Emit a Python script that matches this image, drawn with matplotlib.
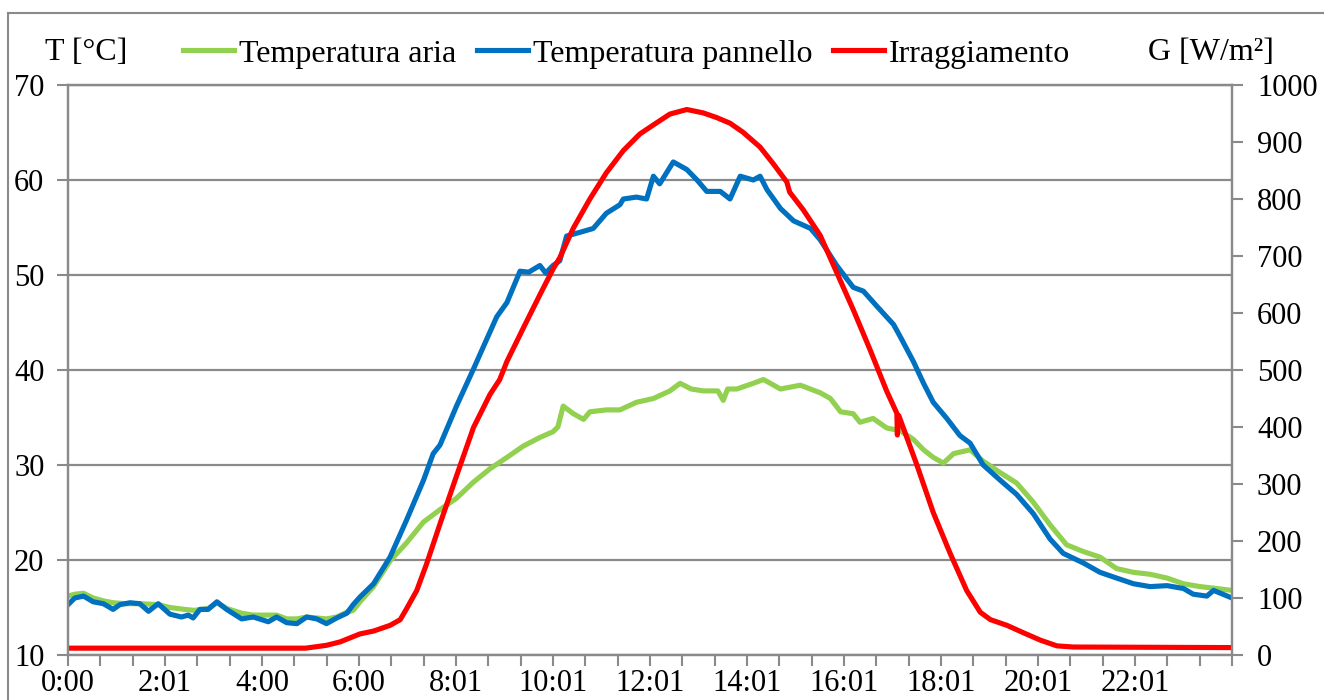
import matplotlib

matplotlib.use("Agg")
import matplotlib.pyplot as plt
from matplotlib.lines import Line2D
from matplotlib.ticker import FixedLocator
import numpy as np

# Air temperature [°C] over the day (hours)
air_hours = [
    0.0, 0.14, 0.32, 0.52, 0.73, 0.93, 1.2, 1.5, 1.86, 2.1, 2.4, 2.6, 2.89, 3.07,
    3.27, 3.58, 3.82, 4.13, 4.3, 4.51, 4.72, 4.92, 5.13, 5.33, 5.54, 5.75, 5.88,
    6.02, 6.30, 6.64, 6.98, 7.33, 7.67, 8.01, 8.36, 8.7, 9.05, 9.39, 9.73, 10.0,
    10.1, 10.21, 10.42, 10.63, 10.76, 11.1, 11.38, 11.72, 12.07, 12.41, 12.62,
    12.85, 13.1, 13.4, 13.51, 13.6, 13.79, 14.13, 14.34, 14.69, 15.1, 15.51,
    15.72, 15.93, 16.19, 16.33, 16.6, 16.88, 17.16, 17.43, 17.64, 17.84, 18.05,
    18.26, 18.6, 18.87, 19.22, 19.56, 19.9, 20.25, 20.59, 20.93, 21.28, 21.62,
    21.97, 22.31, 22.66, 23.0, 23.34, 23.68, 24.0,
]
air_temp = [
    16.2, 16.4, 16.5, 16.0, 15.7, 15.5, 15.4, 15.4, 15.3, 15.0, 14.8, 14.7, 14.9,
    15.5, 14.9, 14.4, 14.2, 14.2, 14.2, 13.8, 13.8, 14.0, 13.9, 13.8, 14.0, 14.5,
    14.7, 15.6, 17.2, 19.9, 21.8, 24.0, 25.3, 26.5, 28.2, 29.6, 30.8, 32.0, 32.9,
    33.5, 34.0, 36.2, 35.4, 34.8, 35.6, 35.8, 35.8, 36.6, 37.0, 37.8, 38.6, 38.0,
    37.8, 37.8, 36.8, 38.0, 38.0, 38.6, 39.0, 38.0, 38.4, 37.6, 37.0, 35.6, 35.4,
    34.5, 34.9, 33.9, 33.6, 32.7, 31.6, 30.8, 30.2, 31.2, 31.6, 30.4, 29.2, 28.1,
    26.1, 23.7, 21.6, 20.9, 20.3, 19.1, 18.7, 18.5, 18.1, 17.5, 17.2, 17.0, 16.8,
]

# Panel temperature [°C]
panel_hours = [
    0.0, 0.14, 0.32, 0.52, 0.73, 0.93, 1.07, 1.28, 1.48, 1.66, 1.86, 2.1, 2.34,
    2.48, 2.58, 2.72, 2.89, 3.07, 3.27, 3.58, 3.82, 4.13, 4.3, 4.51, 4.72, 4.92,
    5.13, 5.33, 5.54, 5.75, 5.88, 6.02, 6.30, 6.64, 6.98, 7.33, 7.53, 7.67, 8.01,
    8.36, 8.56, 8.84, 9.05, 9.32, 9.5, 9.73, 9.85, 10.0, 10.14, 10.28, 10.56,
    10.83, 11.1, 11.38, 11.45, 11.72, 11.93, 12.07, 12.2, 12.48, 12.76, 12.97,
    13.17, 13.45, 13.65, 13.86, 14.13, 14.27, 14.41, 14.69, 14.96, 15.31, 15.51,
    15.85, 16.19, 16.4, 16.68, 17.02, 17.15, 17.43, 17.64, 17.84, 18.12, 18.39,
    18.6, 18.87, 19.22, 19.56, 19.9, 20.25, 20.52, 20.93, 21.28, 21.62, 21.97,
    22.31, 22.66, 23.0, 23.2, 23.48, 23.62, 24.0,
]
panel_temp = [
    15.3, 16.0, 16.2, 15.6, 15.4, 14.8, 15.3, 15.5, 15.4, 14.6, 15.4, 14.3, 14.0,
    14.2, 13.9, 14.8, 14.8, 15.6, 14.8, 13.8, 14.0, 13.5, 14.0, 13.4, 13.3, 14.0,
    13.8, 13.3, 13.9, 14.4, 15.3, 16.1, 17.5, 20.3, 24.2, 28.4, 31.2, 32.1, 36.2,
    40.1, 42.4, 45.6, 47.1, 50.4, 50.3, 51.0, 50.2, 51.0, 51.5, 54.1, 54.5, 54.9,
    56.5, 57.4, 58.0, 58.2, 58.0, 60.4, 59.6, 61.9, 61.1, 60.0, 58.8, 58.8, 58.0,
    60.4, 60.0, 60.4, 59.0, 57.0, 55.7, 54.9, 53.7, 51.0, 48.7, 48.3, 46.7, 44.8,
    43.6, 40.9, 38.6, 36.6, 34.9, 33.1, 32.3, 30.0, 28.4, 26.9, 24.9, 22.2, 20.7,
    19.7, 18.7, 18.1, 17.5, 17.2, 17.3, 17.0, 16.4, 16.2, 16.8, 16.0,
]

# Solar irradiance [W/m2]
irr_hours = [
    0.0, 4.9, 5.33, 5.61, 6.02, 6.30, 6.64, 6.85, 6.98, 7.19, 7.39, 7.67, 8.01,
    8.36, 8.7, 8.9, 9.05, 9.39, 9.73, 10.0, 10.14, 10.42, 10.76, 11.1, 11.45,
    11.79, 12.07, 12.41, 12.76, 13.1, 13.37, 13.65, 13.92, 14.27, 14.54, 14.82,
    14.88, 15.16, 15.51, 15.85, 16.19, 16.54, 16.88, 17.09, 17.1, 17.13, 17.5,
    17.84, 18.19, 18.53, 18.81, 19.02, 19.36, 19.7, 20.05, 20.39, 20.73, 24.0,
]
irradiance = [
    12, 12, 17, 23, 37, 42, 52, 62, 81, 113, 159, 230, 314, 399, 457, 483, 515,
    574, 632, 677, 697, 749, 800, 846, 885, 914, 930, 949, 957, 951, 943, 933,
    917, 891, 862, 830, 812, 781, 736, 671, 606, 535, 463, 424, 386, 420, 334,
    250, 178, 113, 75, 62, 52, 39, 26, 16, 14, 13,
]

hour_ticks = [0, 2, 4, 6, 8, 10, 12, 14, 16, 18, 20, 22]
hour_labels = ["0:00", "2:01", "4:00", "6:00", "8:01", "10:01", "12:01",
               "14:01", "16:01", "18:01", "20:01", "22:01"]
temp_ticks = [10, 20, 30, 40, 50, 60, 70]
irr_ticks = [0, 100, 200, 300, 400, 500, 600, 700, 800, 900, 1000]

plt.rcParams["font.family"] = ["Liberation Serif", "DejaVu Serif"]
plt.rcParams["font.size"] = 22

GRAY = "#8a8a8a"
GREEN = "#92D050"
BLUE = "#0070C0"
RED = "#FF0000"
LW = 3.7

fig = plt.figure(figsize=(13.24, 7.0), dpi=100)
ax = fig.add_axes([68 / 1324, 1 - 655 / 700, 1164 / 1324, 570 / 700])
ax2 = ax.twinx()

ax.plot(air_hours, air_temp, color=GREEN, lw=LW, solid_joinstyle="round",
        label="Temperatura aria")
ax.plot(panel_hours, panel_temp, color=BLUE, lw=LW, solid_joinstyle="round",
        label="Temperatura pannello")
ax2.plot(irr_hours, irradiance, color=RED, lw=LW, solid_joinstyle="round",
         label="Irraggiamento")

ax.set_xlim(0, 24)
ax.set_ylim(10, 70)
ax2.set_ylim(0, 1000)

ax.set_xticks(hour_ticks)
ax.set_xticklabels(hour_labels)
ax.xaxis.set_minor_locator(FixedLocator(np.arange(0, 24.01, 2 / 3)))
ax.set_yticks(temp_ticks)
ax2.set_yticks(irr_ticks)

ax.yaxis.grid(True, color=GRAY, lw=1.6)
ax.set_axisbelow(True)

for a in (ax, ax2):
    for spine in a.spines.values():
        spine.set_color(GRAY)
        spine.set_linewidth(1.6)

ax.tick_params(axis="x", which="both", direction="out", length=8, width=1.5,
               color=GRAY, pad=2)
ax.tick_params(axis="y", direction="out", length=8, width=1.5, color=GRAY, pad=9)
ax2.tick_params(axis="y", direction="out", length=8, width=1.5, color=GRAY, pad=10)

fig.text(45 / 1324, 1 - 52 / 700, "T [°C]", ha="left", va="center", fontsize=23)
fig.text(1148 / 1324, 1 - 52 / 700, "G [W/m²]", ha="left", va="center", fontsize=23)

handles = [ax.get_lines()[0], ax.get_lines()[1], ax2.get_lines()[0]]
fig.legend(handles, [h.get_label() for h in handles], loc="center left",
           bbox_to_anchor=(183 / 1324, 1 - 54 / 700), ncol=3, frameon=False,
           fontsize=23, handlelength=1.6, handletextpad=0.15,
           columnspacing=0.65, borderpad=0, borderaxespad=0)

# thin frame around the chart area
fig.add_artist(Line2D([8 / 1324, 1.0], [1 - 13 / 700, 1 - 13 / 700],
                      color=GRAY, lw=1.5, transform=fig.transFigure))
fig.add_artist(Line2D([8 / 1324, 8 / 1324], [1 - 13 / 700, 0.0],
                      color=GRAY, lw=1.5, transform=fig.transFigure))

fig.savefig("out.png", dpi=100)
